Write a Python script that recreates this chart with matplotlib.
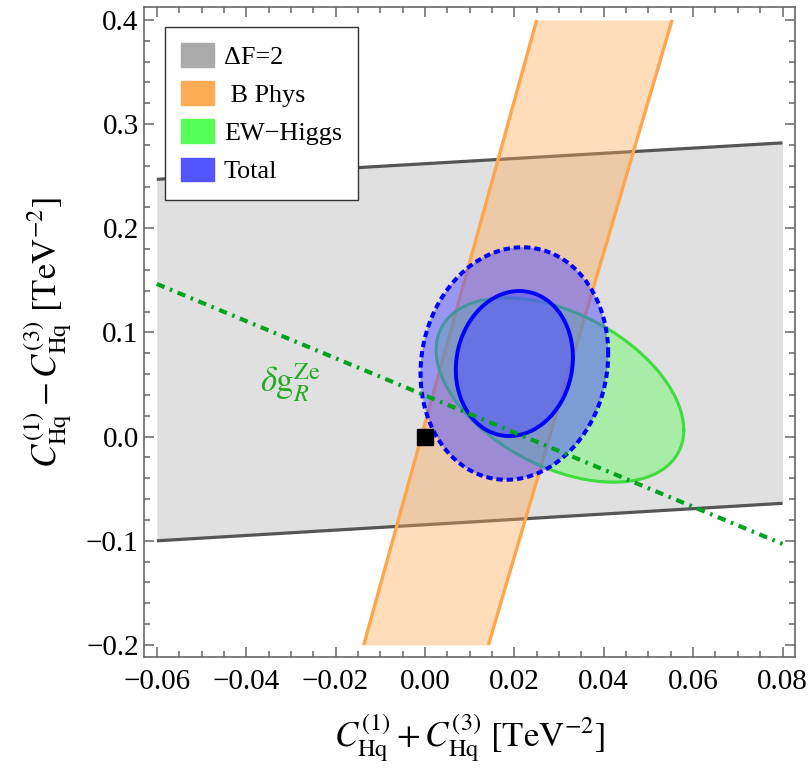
import numpy as np
import matplotlib
matplotlib.use('Agg')
import matplotlib.pyplot as plt
from matplotlib.patches import Patch
from matplotlib.ticker import MultipleLocator

plt.rcParams['font.family'] = ['Liberation Serif', 'DejaVu Serif']
plt.rcParams['mathtext.fontset'] = 'stix'
plt.rcParams['lines.scale_dashes'] = False

# ---------------- data ----------------
# Delta F = 2 band (between two straight lines)
df2_x = [-0.06, 0.08]
df2_upper = [0.247, 0.282]
df2_lower = [-0.100, -0.064]

# B physics band (between two straight lines, spanning y)
bphys_y = [-0.2, 0.4]
bphys_left = [-0.0137, 0.0250]
bphys_right = [0.0142, 0.0553]

# EW-Higgs ellipse: centre, half-extent in x and y, correlation
ew_center = [0.0302, 0.0448]
ew_half = [0.0277, 0.0885]
ew_rho = -0.434

# Total: inner (solid) and outer (dashed) ellipses
total_center = [0.0200, 0.0702]
total_inner_half = [0.0131, 0.0696]
total_outer_half = [0.0210, 0.1116]
total_rho = 0.085

# delta g_R^Ze line
dg_x = [-0.06, 0.08]
dg_y = [0.1466, -0.103]
dg_label_pos = [-0.0368, 0.042]

# SM point
sm_x = [0.0]
sm_y = [0.0]

xticks = [-0.06, -0.04, -0.02, 0.0, 0.02, 0.04, 0.06, 0.08]
xtick_labels = ['\u22120.06', '\u22120.04', '\u22120.02', '0.00', '0.02', '0.04', '0.06', '0.08']
yticks = [-0.2, -0.1, 0.0, 0.1, 0.2, 0.3, 0.4]
ytick_labels = ['\u22120.2', '\u22120.1', '0.0', '0.1', '0.2', '0.3', '0.4']

legend_labels = ['\u0394F=2', ' B Phys', 'EW\u2212Higgs', 'Total']
legend_colors = ['#aaaaaa', '#ffaa55', '#55ff55', '#5555ff']


def ellipse(center, half, rho, n=721):
    t = np.linspace(0, 2 * np.pi, n)
    x = center[0] + half[0] * np.cos(t)
    y = center[1] + half[1] * (rho * np.cos(t) + np.sqrt(1 - rho ** 2) * np.sin(t))
    return x, y


fig = plt.figure(figsize=(8.12, 7.69), dpi=100)
ax = fig.add_axes([0.1777, 0.1450, 0.8014, 0.8453])

# Delta F = 2
ax.fill_between(df2_x, df2_lower, df2_upper, color='#aaaaaa', alpha=0.36, lw=0, zorder=1)
ax.plot(df2_x, df2_upper, color='#555555', lw=2.3, zorder=1.5, solid_capstyle='butt')
ax.plot(df2_x, df2_lower, color='#555555', lw=2.3, zorder=1.5, solid_capstyle='butt')

# B physics
ax.fill_betweenx(bphys_y, bphys_left, bphys_right, color='#ffaa55', alpha=0.4, lw=0, zorder=2)
ax.plot(bphys_left, bphys_y, color='#ffa64d', lw=2.4, zorder=2.5, solid_capstyle='butt')
ax.plot(bphys_right, bphys_y, color='#ffa64d', lw=2.4, zorder=2.5, solid_capstyle='butt')

# EW-Higgs
ex, ey = ellipse(ew_center, ew_half, ew_rho)
ax.fill(ex, ey, facecolor='#55ff55', alpha=0.4, edgecolor='none', zorder=3)
ax.plot(ex, ey, color='#3fdc3f', lw=2.2, zorder=3.1)

# Total
ox, oy = ellipse(total_center, total_outer_half, total_rho)
ix, iy = ellipse(total_center, total_inner_half, total_rho)
ax.fill(ox, oy, facecolor='#5050ff', alpha=0.5, edgecolor='none', zorder=4)
ax.fill(ix, iy, facecolor='#5050ff', alpha=0.5, edgecolor='none', zorder=4.1)
ax.plot(ox, oy, color='#0000ff', lw=2.9, ls=(0, (4.6, 2.8)), dash_capstyle='butt', zorder=4.5)
ax.plot(ix, iy, color='#0000ff', lw=2.8, zorder=4.6)

# delta g line
ax.plot(dg_x, dg_y, color='#00a21e', lw=3.0, ls=(0, (6.0, 4.2, 1.8, 4.2)),
        dash_capstyle='butt', zorder=5)
ax.text(dg_label_pos[0], dg_label_pos[1], r'$\delta\mathrm{g}_{R}^{\mathrm{Ze}}$',
        color='#22aa22', fontsize=25, ha='left', va='baseline', zorder=5)

# SM point
ax.plot(sm_x, sm_y, 's', ms=12, color='black', zorder=6)

# axes
ax.set_xlim(-0.0628, 0.0828)
ax.set_ylim(-0.212, 0.412)
ax.set_xticks(xticks)
ax.set_xticklabels(xtick_labels)
ax.set_yticks(yticks)
ax.set_yticklabels(ytick_labels)
ax.xaxis.set_minor_locator(MultipleLocator(0.005))
ax.yaxis.set_minor_locator(MultipleLocator(0.02))
for s in ax.spines.values():
    s.set_color('#666666')
    s.set_linewidth(1.2)
ax.tick_params(which='both', direction='in', top=True, right=True, color='#666666', width=1.1)
ax.tick_params(which='major', length=7.5, labelsize=21)
ax.tick_params(axis='x', which='major', pad=8)
ax.tick_params(axis='y', which='major', pad=4)
ax.tick_params(which='minor', length=4.5)

ax.set_xlabel(r'$C_{\mathrm{Hq}}^{(1)} + C_{\mathrm{Hq}}^{(3)}\ [\mathrm{TeV}^{-2}]$',
              fontsize=25, labelpad=13)
ax.set_ylabel(r'$C_{\mathrm{Hq}}^{(1)} - C_{\mathrm{Hq}}^{(3)}\ [\mathrm{TeV}^{-2}]$',
              fontsize=25, labelpad=9)

handles = [Patch(facecolor=c, edgecolor=c) for c in legend_colors]
leg = ax.legend(handles, legend_labels, loc='upper left', bbox_to_anchor=(0.0318, 0.970),
                borderaxespad=0, fontsize=18.8, handlelength=1.26, handleheight=1.03,
                handletextpad=0.38, labelspacing=0.47, borderpad=0.62, fancybox=False,
                framealpha=1, edgecolor='#333333')
leg.get_frame().set_linewidth(1.0)
leg.set_zorder(10)

fig.savefig('out.png', dpi=100)
